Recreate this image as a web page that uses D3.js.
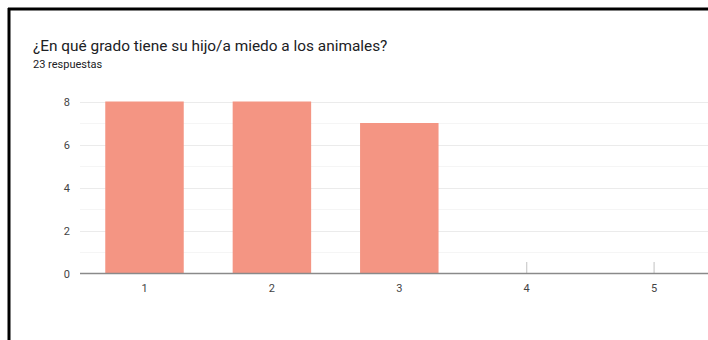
<!DOCTYPE html>
<html><head><meta charset="utf-8">
<script src="https://cdn.jsdelivr.net/npm/d3@7"></script>
<style>body{margin:0;background:#fff;overflow:hidden}svg{display:block}</style>
</head><body>
<svg id="c" width="708" height="340"></svg>
<script>
const title = "¿En qué grado tiene su hijo/a miedo a los animales?";
const subtitle = "23 respuestas";
const categories = ["1", "2", "3", "4", "5"];
const values = [8, 8, 7, 0, 0];
const yTicks = [0, 2, 4, 6, 8];
const yMinor = [1, 3, 5, 7];

const svg = d3.select("#c");
// frame
svg.append("line").attr("x1", 9).attr("x2", 9).attr("y1", 8).attr("y2", 340).attr("stroke", "#000").attr("stroke-width", 3);
svg.append("line").attr("x1", 8).attr("x2", 708).attr("y1", 9).attr("y2", 9).attr("stroke", "#000").attr("stroke-width", 3);

svg.append("text").attr("x", 33).attr("y", 51).text(title)
  .attr("font-family", "Roboto, sans-serif").attr("font-size", 15.4).attr("fill", "#202124");
svg.append("text").attr("x", 33).attr("y", 67.5).text(subtitle)
  .attr("font-family", "Roboto, sans-serif").attr("font-size", 11).attr("fill", "#202124");

const x = d3.scaleBand().domain(categories).range([80.8, 717.8]).paddingInner(0.384).paddingOuter(0.192);
const y = d3.scaleLinear().domain([0, 8]).range([273.5, 101.5]);

const g = svg.append("g");
g.selectAll(".minor").data(yMinor).join("line")
  .attr("x1", 80).attr("x2", 708).attr("y1", d => Math.round(y(d)) + 0.5).attr("y2", d => Math.round(y(d)) + 0.5)
  .attr("stroke", "#f5f5f5").attr("stroke-width", 1);
g.selectAll(".major").data(yTicks.filter(d => d > 0)).join("line")
  .attr("x1", 80).attr("x2", 708).attr("y1", d => Math.round(y(d)) + 0.5).attr("y2", d => Math.round(y(d)) + 0.5)
  .attr("stroke", "#ebebeb").attr("stroke-width", 1);

// x ticks
g.selectAll(".xt").data(categories).join("line")
  .attr("x1", d => x(d) + x.bandwidth() / 2).attr("x2", d => x(d) + x.bandwidth() / 2)
  .attr("y1", 262).attr("y2", 273).attr("stroke", "#cccccc").attr("stroke-width", 1.2);

g.selectAll("rect").data(values).join("rect")
  .attr("x", (d, i) => x(categories[i])).attr("width", x.bandwidth())
  .attr("y", d => y(d)).attr("height", d => y(0) - y(d))
  .attr("fill", "#f49583");

// baseline
g.append("line").attr("x1", 80).attr("x2", 708).attr("y1", 273.5).attr("y2", 273.5).attr("stroke", "#8a8a8a").attr("stroke-width", 1.3);

const yAxis = d3.axisLeft(y).tickValues(yTicks).tickSize(0).tickPadding(0);
const ya = svg.append("g").attr("transform", "translate(70,0)").call(yAxis);
ya.select(".domain").remove();
ya.selectAll("text").attr("font-family", "Roboto, sans-serif").attr("font-size", 11).attr("fill", "#444").attr("dy", "0.35em");

const xAxis = d3.axisBottom(x).tickSize(0).tickPadding(0);
const xa = svg.append("g").attr("transform", "translate(0,284)").call(xAxis);
xa.select(".domain").remove();
xa.selectAll("text").attr("font-family", "Roboto, sans-serif").attr("font-size", 11).attr("fill", "#444").attr("dy", "0.71em");
</script>
</body></html>
